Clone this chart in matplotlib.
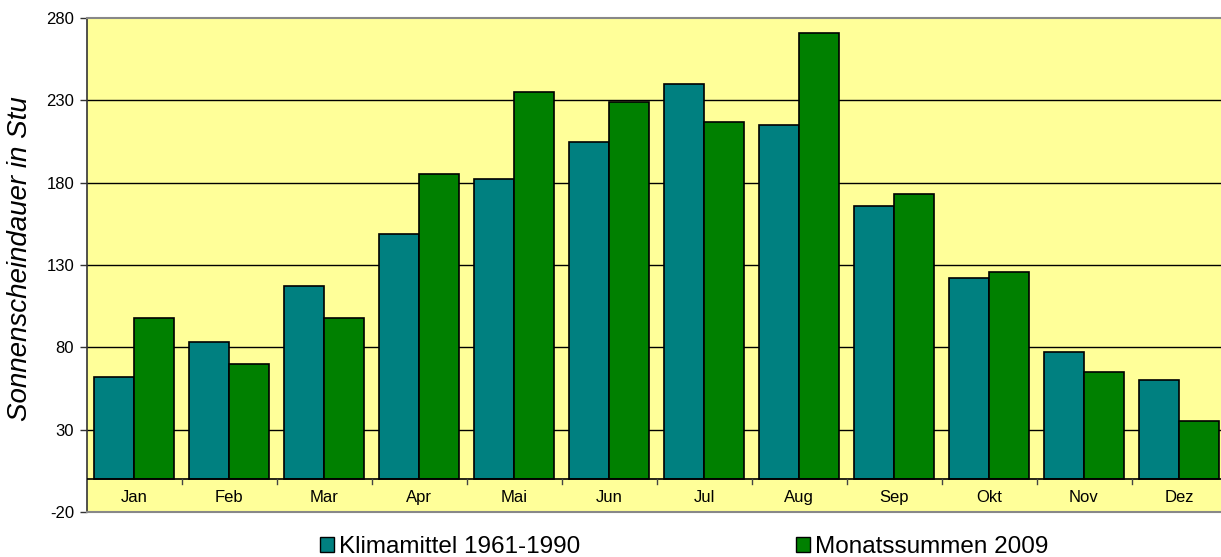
import numpy as np
import matplotlib.pyplot as plt
from matplotlib.patches import Patch

plt.rcParams["font.family"] = ["Liberation Sans", "DejaVu Sans"]
plt.rcParams["axes.unicode_minus"] = False

months = ["Jan", "Feb", "Mar", "Apr", "Mai", "Jun", "Jul", "Aug", "Sep", "Okt", "Nov", "Dez"]
klimamittel = [62, 83, 117, 149, 182, 205, 240, 215, 166, 122, 77, 60]
monatssummen_2009 = [98, 70, 98, 185, 235, 229, 217, 271, 173, 126, 65, 35]
series_names = ["Klimamittel 1961-1990", "Monatssummen 2009"]
y_ticks = [-20, 30, 80, 130, 180, 230, 280]

TEAL = "#008080"
GREEN = "#008000"
BG = "#FFFF99"


def main() -> None:
    fig = plt.figure(figsize=(12.21, 5.57), dpi=100)
    # plot area runs slightly past the right edge, like the source image
    ax = fig.add_axes([86.5 / 1221, 45 / 557, 1140 / 1221, 494 / 557])
    ax.set_facecolor(BG)

    x = np.arange(len(months))
    w = 0.418
    ax.bar(x - w / 2, klimamittel, w, color=TEAL, edgecolor="black", linewidth=1.2, zorder=3)
    ax.bar(x + w / 2, monatssummen_2009, w, color=GREEN, edgecolor="black", linewidth=1.2, zorder=3)

    ax.set_xlim(-0.5, len(months) - 0.5)
    ax.set_ylim(-20, 280)
    ax.set_yticks(y_ticks)
    ax.tick_params(axis="y", labelsize=12, length=5, width=1, color="#333333", pad=4)
    for yv in y_ticks[1:-1]:
        ax.axhline(yv, color="black", linewidth=1, zorder=1)
    ax.axhline(0, color="black", linewidth=1.2, zorder=4)

    # category labels sit in the band between 0 and -20
    ax.set_xticks([])
    for i, m in enumerate(months):
        ax.text(i, -11, m, ha="center", va="center", fontsize=12)
    for b in np.arange(0.5, len(months) - 0.5):
        ax.plot([b, b], [0, -3], color="#444444", linewidth=1, zorder=4)

    ax.spines["right"].set_visible(False)
    ax.spines["left"].set_color("#333333")
    ax.spines["left"].set_linewidth(1.2)
    ax.spines["top"].set_color("#888888")
    ax.spines["top"].set_linewidth(1.5)
    ax.spines["bottom"].set_color("#888888")
    ax.spines["bottom"].set_linewidth(1.5)

    fig.text(20 / 1221, 1 - 259 / 557, "Sonnenscheindauer in Stu", rotation=90,
             ha="center", va="center", fontsize=20, fontstyle="italic")

    handles = [Patch(facecolor=TEAL, edgecolor="black", linewidth=1),
               Patch(facecolor=GREEN, edgecolor="black", linewidth=1)]
    fig.legend(handles, series_names, loc="center", bbox_to_anchor=(684 / 1221, 1 - 547 / 557),
               ncol=2, frameon=False, fontsize=17.5, handlelength=0.57, handleheight=0.57,
               handletextpad=0.2, columnspacing=8.9, borderaxespad=0)

    fig.savefig("out.png", dpi=100)
    plt.close(fig)


if __name__ == "__main__":
    main()
